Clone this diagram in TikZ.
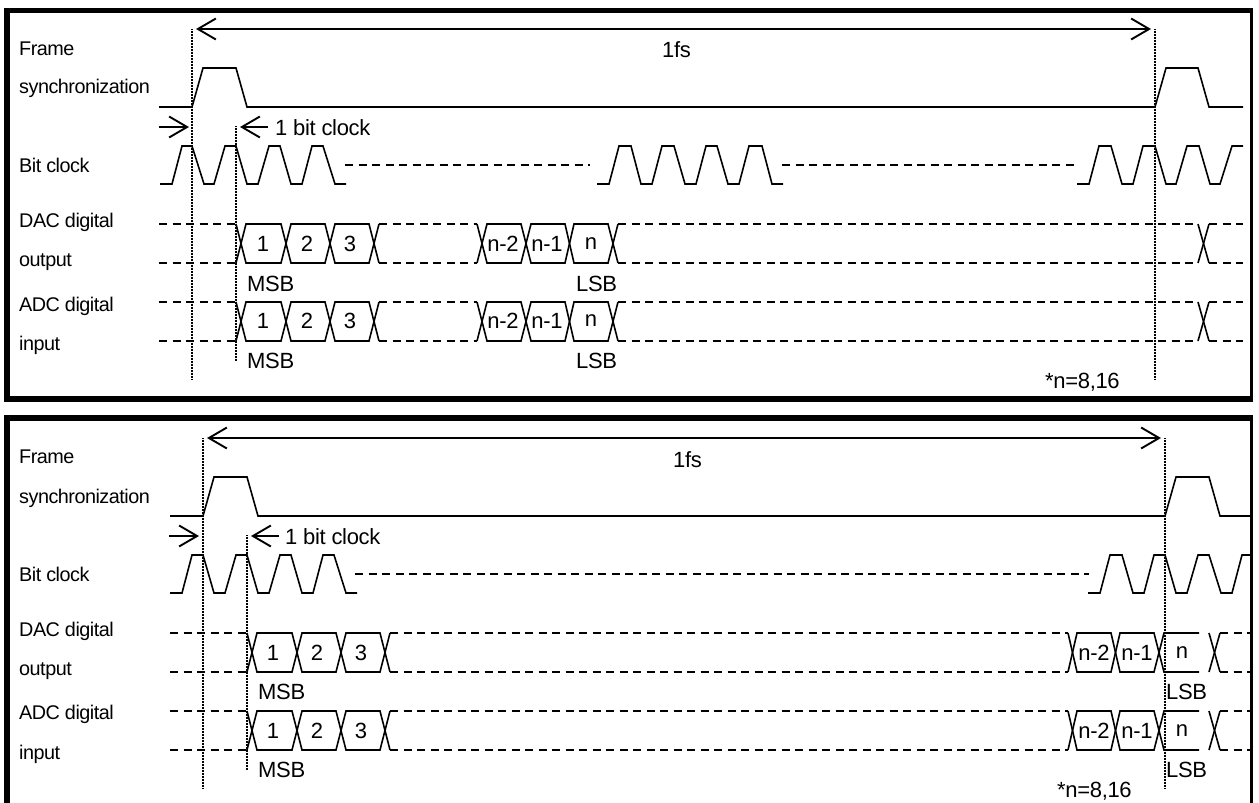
\documentclass[tikz,border=0pt]{standalone}
\usepackage{fontspec}
\setmainfont{Liberation Sans}
\newfontfamily\labfont[LetterSpace=-2.5]{Liberation Sans}
\newfontfamily\txtfont[LetterSpace=-1.5]{Liberation Sans}
\usetikzlibrary{arrows.meta}
\tikzset{
  x=1pt,y=-1pt,
  wave/.style={line width=1.6pt,line join=miter,black},
  busdash/.style={line width=1.6pt,dash pattern=on 8pt off 5.5pt},
  marker/.style={line width=1.2pt,dash pattern=on 1pt off 0.5pt},
  barb/.tip={Straight Barb[length=18pt,width=21pt,line width=1.9pt]},
  span/.style={line width=2pt,barb-barb},
  tip/.style={line width=1.9pt,-barb},
  lab/.style={anchor=base west,inner sep=0pt,font=\labfont\fontsize{19.8pt}{21pt}\selectfont},
  txt/.style={anchor=base west,inner sep=0pt,font=\txtfont\fontsize{22pt}{24pt}\selectfont},
  dig/.style={anchor=center,inner sep=0pt,font=\txtfont\fontsize{22pt}{24pt}\selectfont},
  frm/.style={fill=black,draw=none}
}
\begin{document}
\begin{tikzpicture}
\useasboundingbox (0,0) rectangle (1259,803);
% frames
\fill[frm] (3.5,7.5) rectangle (1253,12.5);
\fill[frm] (3.5,396) rectangle (1253,402);
\fill[frm] (3.5,7.5) rectangle (9.5,402);
\fill[frm] (1250,7.5) rectangle (1253,402);
\fill[frm] (3.5,415) rectangle (1253,420.7);
\fill[frm] (3.5,415) rectangle (9.5,803);
\fill[frm] (1250,415) rectangle (1253,803);

% ---------- panel 1 ----------
\coordinate (a1l) at (192,29); \coordinate (a1r) at (1155,29);
\coordinate (m1a) at (192,379); \coordinate (m1b) at (1155,379);
\coordinate (m1c) at (236,126); \coordinate (m1d) at (236,361);
\coordinate (g1a) at (159,127); \coordinate (g1b) at (189,127);
\coordinate (g1c) at (268,127); \coordinate (g1d) at (240,127);
\draw[marker] (a1l) -- (m1a);
\draw[marker] (a1r) -- (m1b);
\draw[marker] (m1c) -- (m1d);
\draw[span,shorten <=4pt,shorten >=4pt] (a1l) -- (a1r);
\draw[tip] (g1a) -- (g1b);
\draw[tip] (g1c) -- (g1d);
\draw[wave] (159,107)--(192,107)--(203,68)--(236,68)--(247,107)--(1155,107)--(1166,68)--(1198,68)--(1209,107)--(1243,107);
\draw[wave] (160,184)--(172,184)--(182,146)--(192,146)--(204,184)--(214,184)--(225,146)--(236,146)--(247,184)--(258,184)--(269,146)--(280,146)--(291,184)--(302,184)--(312,146)--(323,146)--(335,184)--(346,184);
\draw[busdash] (345,165)--(590,165);
\draw[wave] (597,184)--(609,184)--(619,146)--(631,146)--(641,184)--(652,184)--(662,146)--(674,146)--(685,184)--(696,184)--(706,146)--(717,146)--(728,184)--(739,184)--(749,146)--(762,146)--(772,184)--(783,184);
\draw[busdash] (782,165)--(1078,165);
\draw[wave] (1077,184)--(1089,184)--(1099,146)--(1111,146)--(1122,184)--(1133,184)--(1143,146)--(1155,146)--(1166,184)--(1176,184)--(1187,146)--(1199,146)--(1210,184)--(1220,184)--(1232,146)--(1243,146);
\foreach \t/\b/\c/\r in {224/263/244/a,302/341/321/b}{
  \draw[wave] (236,\t)--(246,\b)--(281,\b)--(291,\t)--(325,\t)--(335,\b)--(369,\b)--(379,\t);
  \draw[wave] (236,\b)--(246,\t)--(281,\t)--(291,\b)--(325,\b)--(335,\t)--(369,\t)--(379,\b);
  \draw[wave] (477,\t)--(487,\b)--(521,\b)--(531,\t)--(565,\t)--(574,\b)--(608,\b)--(618,\t);
  \draw[wave] (477,\b)--(487,\t)--(521,\t)--(531,\b)--(565,\b)--(574,\t)--(608,\t)--(618,\b);
  \draw[wave] (1198,\t)--(1209,\b); \draw[wave] (1198,\b)--(1209,\t);
  \foreach \y in {\t,\b}{
    \draw[busdash] (159,\y)--(236,\y);
    \draw[busdash] (379,\y)--(477,\y);
    \draw[busdash] (618,\y)--(1198,\y);
    \draw[busdash] (1209,\y)--(1243,\y);
  }
  \node[dig] (pa1\r) at (263,\c) {1};
  \node[dig] (pa2\r) at (307,\c) {2};
  \node[dig] (pa3\r) at (350,\c) {3};
  \node[dig] (pa4\r) at (503,\c) {n-2};
  \node[dig] (pa5\r) at (547,\c) {n-1};
  \node[dig] (pa6\r) at (591,\c) {n};
}
\node[lab] (l1) at (19,55) {Frame};
\node[lab] (l2) at (19,93) {synchronization};
\node[lab] (l3) at (19,172) {Bit clock};
\node[lab] (l4) at (19,227) {DAC digital};
\node[lab] (l5) at (19,266) {output};
\node[lab] (l6) at (19,311) {ADC digital};
\node[lab] (l7) at (19,350) {input};
\node[txt] (t1) at (275,135) {1 bit clock};
\node[txt] (t2) at (662,57) {1fs};
\node[txt] (t3) at (247,291) {MSB};
\node[txt] (t4) at (247,368) {MSB};
\node[txt] (t5) at (576,291) {LSB};
\node[txt] (t6) at (576,368) {LSB};
\node[txt] (t7) at (1045,388) {*n=8,16};

% ---------- panel 2 ----------
\coordinate (a2l) at (203,438); \coordinate (a2r) at (1165,438);
\coordinate (m2a) at (203,788); \coordinate (m2b) at (1165,788);
\coordinate (m2c) at (247,535); \coordinate (m2d) at (247,770);
\coordinate (g2a) at (169,536); \coordinate (g2b) at (199,536);
\coordinate (g2c) at (279,536); \coordinate (g2d) at (251,536);
\draw[marker] (a2l) -- (m2a);
\draw[marker] (a2r) -- (m2b);
\draw[marker] (m2c) -- (m2d);
\draw[span,shorten <=4pt,shorten >=4pt] (a2l) -- (a2r);
\draw[tip] (g2a) -- (g2b);
\draw[tip] (g2c) -- (g2d);
\draw[wave] (170,516)--(203,516)--(214,477)--(247,477)--(258,516)--(1165,516)--(1176,477)--(1209,477)--(1220,516)--(1251,516);
\draw[wave] (170,593)--(182,593)--(192,555)--(203,555)--(214,593)--(225,593)--(236,555)--(247,555)--(258,593)--(269,593)--(280,555)--(291,555)--(302,593)--(313,593)--(323,555)--(334,555)--(346,593)--(357,593);
\draw[busdash] (355,574)--(1089,574);
\draw[wave] (1088,593)--(1100,593)--(1110,555)--(1122,555)--(1133,593)--(1144,593)--(1154,555)--(1165,555)--(1176,593)--(1187,593)--(1198,555)--(1209,555)--(1221,593)--(1232,593)--(1242,555)--(1251,555);
\foreach \t/\b/\c/\r in {633/672/653/a,711/750/731/b}{
  \draw[wave] (247,\t)--(257,\b)--(292,\b)--(302,\t)--(336,\t)--(346,\b)--(380,\b)--(390,\t);
  \draw[wave] (247,\b)--(257,\t)--(292,\t)--(302,\b)--(336,\b)--(346,\t)--(380,\t)--(390,\b);
  \draw[wave] (1068,\t)--(1077,\b)--(1111,\b)--(1120,\t)--(1154,\t)--(1164,\b)--(1199,\b);
  \draw[wave] (1068,\b)--(1077,\t)--(1111,\t)--(1120,\b)--(1154,\b)--(1164,\t)--(1199,\t);
  \draw[wave] (1209,\t)--(1220,\b); \draw[wave] (1209,\b)--(1220,\t);
  \foreach \y in {\t,\b}{
    \draw[busdash] (170,\y)--(247,\y);
    \draw[busdash] (390,\y)--(1068,\y);
    \draw[busdash] (1220,\y)--(1251,\y);
  }
  \node[dig] (pb1\r) at (273,\c) {1};
  \node[dig] (pb2\r) at (317,\c) {2};
  \node[dig] (pb3\r) at (361,\c) {3};
  \node[dig] (pb4\r) at (1094,\c) {n-2};
  \node[dig] (pb5\r) at (1137,\c) {n-1};
  \node[dig] (pb6\r) at (1182,\c) {n};
}
\node[lab] (k1) at (19,463) {Frame};
\node[lab] (k2) at (19,503) {synchronization};
\node[lab] (k3) at (19,581) {Bit clock};
\node[lab] (k4) at (19,636) {DAC digital};
\node[lab] (k5) at (19,675) {output};
\node[lab] (k6) at (19,719) {ADC digital};
\node[lab] (k7) at (19,759) {input};
\node[txt] (u1) at (285,544) {1 bit clock};
\node[txt] (u2) at (673,467) {1fs};
\node[txt] (u3) at (258,699) {MSB};
\node[txt] (u4) at (258,777) {MSB};
\node[txt] (u5) at (1166,699) {LSB};
\node[txt] (u6) at (1166,777) {LSB};
\node[txt] (u7) at (1057,797) {*n=8,16};
\end{tikzpicture}
\end{document}
